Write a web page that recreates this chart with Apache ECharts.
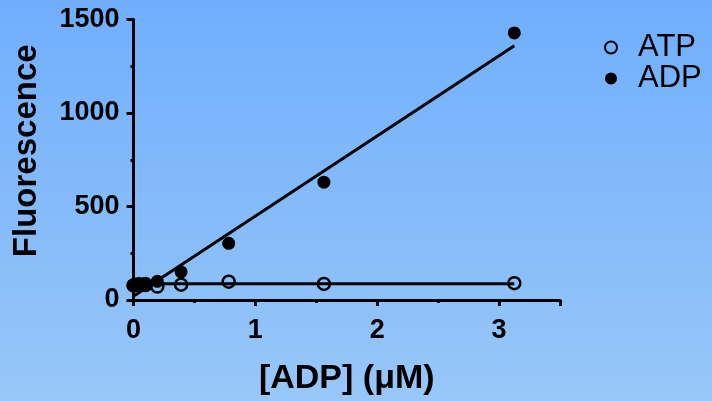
<!DOCTYPE html>
<html>
<head>
<meta charset="utf-8">
<script src="https://cdn.jsdelivr.net/npm/echarts@6/dist/echarts.min.js"></script>
<style>
html,body{margin:0;padding:0;}
#chart{width:712px;height:401px;}
</style>
</head>
<body>
<div id="chart"></div>
<script>
// Data
var concentrations = [0, 0.0122, 0.0244, 0.0488, 0.0977, 0.1953, 0.3906, 0.78125, 1.5625, 3.125];
var atpValues = [78, 80, 80, 82, 80, 72, 82, 98, 86, 90];
var adpValues = [80, 82, 85, 88, 90, 100, 150, 303, 630, 1428];
var fitX = [0, 3.125];
var adpFit = [20, 1360];
var atpFit = [87, 87];
var seriesNames = ['ATP', 'ADP'];
var xTitle = '[ADP] (\u03BCM)';
var yTitle = 'Fluorescence';

function pairs(xs, ys) { return xs.map(function (x, i) { return [x, ys[i]]; }); }

var FONT = '"Liberation Sans", Arial, sans-serif';
var chart = echarts.init(document.getElementById('chart'));
chart.setOption({
  animation: false,
  backgroundColor: {
    type: 'linear', x: 0, y: 0, x2: 0, y2: 1,
    colorStops: [{offset: 0, color: '#70aefd'}, {offset: 1, color: '#98c7f8'}]
  },
  grid: {left: 133.5, right: 152, top: 19.5, bottom: 99, containLabel: false},
  legend: {
    orient: 'vertical', left: 599, top: 27, itemWidth: 12, itemHeight: 12, itemGap: 0,
    textStyle: {fontFamily: FONT, fontSize: 31, color: '#000', padding: [0, 0, 0, 16]},
    data: [
      {name: seriesNames[0], icon: 'circle', itemStyle: {color: 'rgba(0,0,0,0)', borderColor: '#000', borderWidth: 2, opacity: 1}},
      {name: seriesNames[1], icon: 'circle', itemStyle: {color: '#000', borderWidth: 0, opacity: 1}}
    ]
  },
  xAxis: {
    type: 'value', min: 0, max: 3.5, interval: 1,
    name: xTitle, nameLocation: 'middle', nameGap: 62,
    nameTextStyle: {fontFamily: FONT, fontSize: 34, fontWeight: 'bold', color: '#000'},
    axisLine: {show: true, onZero: false, lineStyle: {color: '#000', width: 3}},
    axisTick: {show: true, length: 6, lineStyle: {color: '#000', width: 3}},
    minorTick: {show: true, splitNumber: 2, length: 3, lineStyle: {color: '#000', width: 3}},
    splitLine: {show: false},
    axisLabel: {fontFamily: FONT, fontSize: 27, fontWeight: 'bold', color: '#000', margin: 17,
      formatter: function (v) { return Number.isInteger(v) ? String(v) : ''; }}
  },
  yAxis: {
    type: 'value', min: 0, max: 1500, interval: 500,
    name: yTitle, nameLocation: 'middle', nameGap: 90, nameRotate: 90,
    nameTextStyle: {fontFamily: FONT, fontSize: 33, fontWeight: 'bold', color: '#000', padding: [0, 0, 0, 18]},
    axisLine: {show: true, lineStyle: {color: '#000', width: 3}},
    axisTick: {show: true, length: 7, lineStyle: {color: '#000', width: 3}},
    minorTick: {show: true, splitNumber: 2, length: 3, lineStyle: {color: '#000', width: 3}},
    splitLine: {show: false},
    axisLabel: {fontFamily: FONT, fontSize: 27, fontWeight: 'bold', color: '#000', margin: 14,
      formatter: function (v) { return String(v); }}
  },
  series: [
    {
      type: 'line', data: pairs(fitX, atpFit), showSymbol: false, silent: true,
      lineStyle: {color: '#000', width: 3}, z: 2
    },
    {
      type: 'line', data: pairs(fitX, adpFit), showSymbol: false, silent: true,
      lineStyle: {color: '#000', width: 3}, z: 2
    },
    {
      name: seriesNames[0], type: 'scatter', data: pairs(concentrations, atpValues),
      symbol: 'circle', symbolSize: 12,
      itemStyle: {color: 'rgba(0,0,0,0)', borderColor: '#000', borderWidth: 2.5, opacity: 1}, z: 3
    },
    {
      name: seriesNames[1], type: 'scatter', data: pairs(concentrations, adpValues),
      symbol: 'circle', symbolSize: 13,
      itemStyle: {color: '#000', opacity: 1}, z: 4
    }
  ]
});
</script>
</body>
</html>
